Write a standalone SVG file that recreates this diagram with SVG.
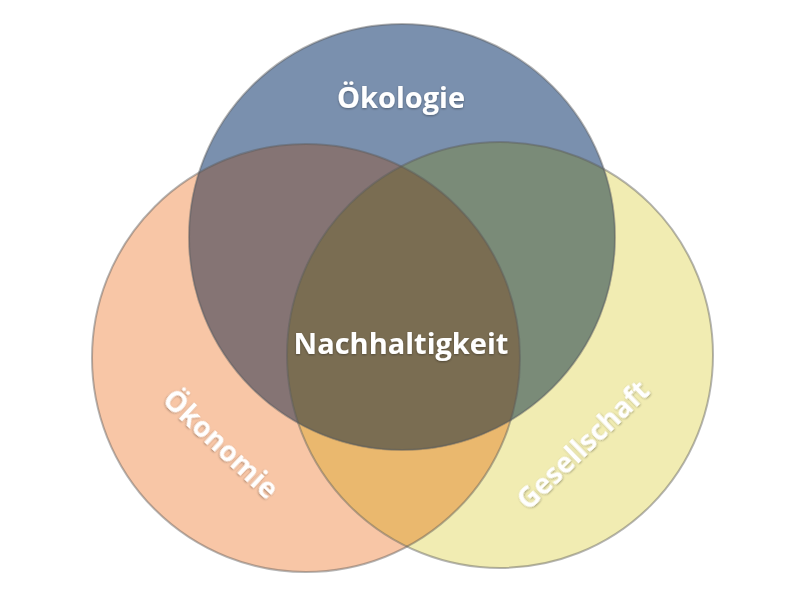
<svg xmlns="http://www.w3.org/2000/svg" width="805" height="604" viewBox="0 0 805 604">
<style>
.lbl{font-family:"Open Sans","Liberation Sans",sans-serif;font-weight:700;fill:#ffffff;text-anchor:middle;filter:url(#sh)}
.ring{fill:none;stroke:#5a5a5a;stroke-opacity:0.45;stroke-width:2}
</style>
<defs>
<clipPath id="cB"><circle cx="402" cy="237" r="213"/></clipPath>
<clipPath id="cO"><circle cx="306" cy="358" r="214"/></clipPath>
<clipPath id="cY"><circle cx="500" cy="355" r="213"/></clipPath>
<filter id="sh" x="-20%" y="-40%" width="140%" height="180%">
<feDropShadow dx="0" dy="1" stdDeviation="1.2" flood-color="#000" flood-opacity="0.35"/>
</filter>
</defs>
<rect width="805" height="604" fill="#ffffff"/>
<g id="oekonomie">
<circle cx="306" cy="358" r="214" fill="#f8c6a6"/>
</g>
<g id="gesellschaft">
<circle cx="500" cy="355" r="213" fill="#f1ecb2"/>
</g>
<g id="oekologie">
<circle cx="402" cy="237" r="213" fill="#7a90ae"/>
</g>
<g id="overlaps">
<g clip-path="url(#cO)"><circle cx="500" cy="355" r="213" fill="#eab86e"/></g>
<g clip-path="url(#cO)"><circle cx="402" cy="237" r="213" fill="#857474"/></g>
<g clip-path="url(#cY)"><circle cx="402" cy="237" r="213" fill="#7a8b78"/></g>
<g clip-path="url(#cY)"><g clip-path="url(#cO)"><circle cx="402" cy="237" r="213" fill="#7a6d52"/></g></g>
</g>
<g id="outlines">
<circle class="ring" cx="306" cy="358" r="214"/>
<circle class="ring" cx="500" cy="355" r="213"/>
<circle class="ring" cx="402" cy="237" r="213"/>
</g>
<g id="labels">
<text class="lbl" x="401" y="108" font-size="29">Ökologie</text>
<text id="nachhaltigkeit" class="lbl" x="401" y="354" font-size="29">Nachhaltigkeit</text>
<text class="lbl" x="0" y="0" font-size="28" transform="translate(221,444) rotate(43) translate(0,10)">Ökonomie</text>
<text class="lbl" x="0" y="0" font-size="28" transform="translate(583,445) rotate(-44) translate(0,10)">Gesellschaft</text>
</g>
</svg>
